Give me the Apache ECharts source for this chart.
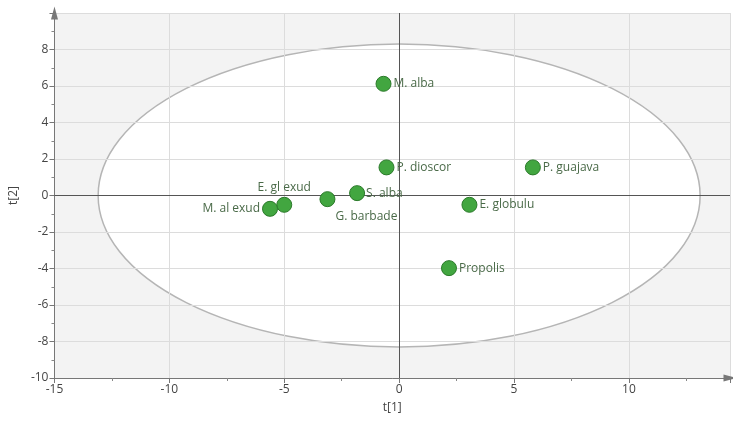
<!DOCTYPE html>
<html>
<head>
<meta charset="utf-8">
<script src="https://cdn.jsdelivr.net/npm/echarts@6/dist/echarts.min.js"></script>
<style>html,body{margin:0;padding:0;background:#fff}#c{width:733px;height:421px}</style>
</head>
<body>
<div id="c"></div>
<script>
// Data
var names = ['M. alba', 'P. dioscor', 'P. guajava', 'S. alba', 'G. barbade', 'E. gl exud', 'M. al exud', 'E. globulu', 'Propolis'];
var t1 = [-0.68, -0.55, 5.82, -1.83, -3.12, -5.0, -5.62, 3.06, 2.17];
var t2 = [6.12, 1.54, 1.54, 0.13, -0.2, -0.51, -0.73, -0.51, -3.98];
var ellipseAxes = [13.1, 8.3]; // Hotelling T2 ellipse semi-axes (t[1], t[2])
var xTicks = [-15, -10, -5, 0, 5, 10];
var yTicks = [-10, -8, -6, -4, -2, 0, 2, 4, 6, 8];

// Label placement (style)
var labelStyle = {
  'G. barbade': {position: 'right', distance: 0, offset: [0, 17]},
  'E. gl exud': {position: 'top', distance: 3},
  'M. al exud': {position: 'left', distance: 2},
  'S. alba': {position: 'right', distance: 1}
};

var font = '"Open Sans", "Noto Sans", sans-serif';
var points = names.map(function (n, i) {
  var ls = labelStyle[n] || {position: 'right', distance: 2};
  return {name: n, value: [t1[i], t2[i]], label: Object.assign({}, ls)};
});

var chart = echarts.init(document.getElementById('c'));
chart.setOption({
  animation: false,
  grid: {left: 54, right: 1, top: 13, bottom: 43, show: true, backgroundColor: '#f3f3f3', borderWidth: 0, z: 0},
  xAxis: {
    type: 'value', min: -15, max: 14.4, interval: 5, z: 3,
    name: 't[1]', nameLocation: 'middle', nameGap: 24,
    nameTextStyle: {color: '#444', fontSize: 12, fontFamily: font},
    axisLine: {show: true, onZero: false, lineStyle: {color: '#777', width: 1}, symbol: ['none', 'triangle'], symbolSize: [7, 13]},
    axisTick: {show: true, length: 5, lineStyle: {color: '#777'}},
    minorTick: {show: true, splitNumber: 2, length: 3, lineStyle: {color: '#888'}},
    axisLabel: {color: '#444', fontSize: 12, fontFamily: font, margin: 6,
      formatter: function (v) { return xTicks.indexOf(v) >= 0 ? String(v) : ''; }},
    splitLine: {show: true, lineStyle: {color: '#dcdcdc', width: 1}}
  },
  yAxis: {
    type: 'value', min: -10, max: 10, interval: 2, z: 3,
    name: 't[2]', nameLocation: 'middle', nameGap: 31,
    nameTextStyle: {color: '#444', fontSize: 12, fontFamily: font},
    axisLine: {show: true, onZero: false, lineStyle: {color: '#777', width: 1}, symbol: ['none', 'triangle'], symbolSize: [7, 13]},
    axisTick: {show: true, length: 5, lineStyle: {color: '#777'}},
    minorTick: {show: true, splitNumber: 2, length: 3, lineStyle: {color: '#888'}},
    axisLabel: {color: '#444', fontSize: 12, fontFamily: font, margin: 6,
      formatter: function (v) { return yTicks.indexOf(v) >= 0 ? String(v) : ''; }},
    splitLine: {show: true, lineStyle: {color: '#dcdcdc', width: 1}}
  },
  series: [
    {
      type: 'custom', z: 1, silent: true,
      data: [[0, 0, ellipseAxes[0], ellipseAxes[1]]],
      renderItem: function (params, api) {
        var c = api.coord([api.value(0), api.value(1)]);
        var rx = api.size([api.value(2), 0])[0];
        var ry = api.size([0, api.value(3)])[1];
        var d = 'M' + (c[0] - rx) + ' ' + c[1] +
          ' A' + rx + ' ' + ry + ' 0 1 0 ' + (c[0] + rx) + ' ' + c[1] +
          ' A' + rx + ' ' + ry + ' 0 1 0 ' + (c[0] - rx) + ' ' + c[1] + ' Z';
        return {type: 'path', shape: {pathData: d}, style: {fill: '#ffffff', stroke: '#b5b5b5', lineWidth: 1.5}};
      }
    },
    {
      type: 'scatter', z: 5,
      symbolSize: 15,
      itemStyle: {color: '#42a640', borderColor: '#2b7a2a', borderWidth: 1, opacity: 1},
      label: {show: true, formatter: '{b}', color: '#4a6a48', fontSize: 12, fontFamily: font},
      data: points,
      markLine: {
        silent: true, symbol: 'none', z: 4,
        label: {show: false},
        lineStyle: {color: '#555', width: 1, type: 'solid'},
        data: [{xAxis: 0}, {yAxis: 0}]
      }
    }
  ]
});
</script>
</body>
</html>
